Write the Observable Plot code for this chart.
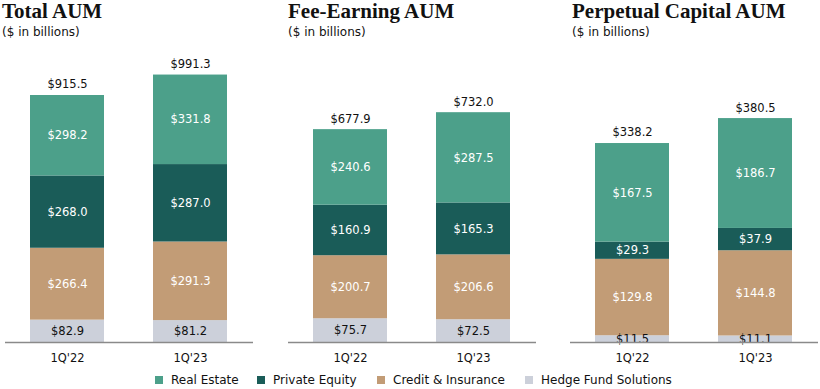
<!DOCTYPE html>
<html><head><meta charset="utf-8">
<script src="https://cdn.jsdelivr.net/npm/d3@7"></script>
<script src="https://cdn.jsdelivr.net/npm/@observablehq/plot@0.6"></script>
<style>
body{margin:0;background:#fff;}
#root{position:relative;width:820px;height:389px;overflow:hidden;font-family:"DejaVu Sans",sans-serif;}
.title{position:absolute;top:-1px;font-family:"Liberation Serif",serif;font-weight:bold;font-size:21px;color:#111;white-space:nowrap;}
.sub{position:absolute;top:25px;font-size:12px;color:#111;white-space:nowrap;}
.panel{position:absolute;top:0;}
#legend{position:absolute;top:373px;left:0;width:820px;font-size:12px;color:#111;}
.li{position:absolute;top:0;white-space:nowrap;}
.sw{display:inline-block;width:8px;height:8px;margin-right:8px;vertical-align:0px;}
</style></head>
<body><div id="root"></div>
<script>
const periods = ["1Q'22", "1Q'23"];
const segments = ["Real Estate", "Private Equity", "Credit & Insurance", "Hedge Fund Solutions"];
const colors = ["#4ca08a", "#1a5c58", "#c29c76", "#ccd0da"];
const panelTitles = ["Total AUM", "Fee-Earning AUM", "Perpetual Capital AUM"];
// values per segment: [1Q'22, 1Q'23]
const totalAUM = {
  "Real Estate": [298.2, 331.8],
  "Private Equity": [268.0, 287.0],
  "Credit & Insurance": [266.4, 291.3],
  "Hedge Fund Solutions": [82.9, 81.2]
};
const totalAUMTotals = [915.5, 991.3];
const feeEarningAUM = {
  "Real Estate": [240.6, 287.5],
  "Private Equity": [160.9, 165.3],
  "Credit & Insurance": [200.7, 206.6],
  "Hedge Fund Solutions": [75.7, 72.5]
};
const feeEarningTotals = [677.9, 732.0];
const perpetualAUM = {
  "Real Estate": [167.5, 186.7],
  "Private Equity": [29.3, 37.9],
  "Credit & Insurance": [129.8, 144.8],
  "Hedge Fund Solutions": [11.5, 11.1]
};
const perpetualTotals = [338.2, 380.5];

const panels = [
  {data: totalAUM, totals: totalAUMTotals, left: 5, dmax: 1000, top: 72.2},
  {data: feeEarningAUM, totals: feeEarningTotals, left: 288, dmax: 800, top: 90.8},
  {data: perpetualAUM, totals: perpetualTotals, left: 570, dmax: 400, top: 106.6}
];
const titleLeft = [2, 288, 572];

const root = document.getElementById("root");
panels.forEach((p, i) => {
  const t = document.createElement("div"); t.className = "title"; t.style.left = titleLeft[i] + "px"; t.textContent = panelTitles[i]; root.appendChild(t);
  const s = document.createElement("div"); s.className = "sub"; s.style.left = titleLeft[i] + "px"; s.textContent = "($ in billions)"; root.appendChild(s);

  // stacking order bottom to top: Hedge, Credit, PE, Real Estate
  const rows = [];
  periods.forEach((per, j) => {
    segments.slice().reverse().forEach(seg => {
      rows.push({period: per, segment: seg, value: p.data[seg][j]});
    });
  });
  const totals = periods.map((per, j) => ({period: per, total: p.totals[j]}));
  const fmt = v => "$" + v.toFixed(1);

  const plot = Plot.plot({
    width: 248, height: 365,
    marginLeft: 0, marginRight: 0, marginTop: 0, marginBottom: 23,
    style: {fontFamily: "DejaVu Sans, sans-serif", fontSize: "11px", background: "transparent", color: "#111"},
    x: {domain: periods, range: [0, 248], paddingInner: 0.395, paddingOuter: 0.1976, label: null},
    y: {domain: [0, p.dmax], range: [342, p.top], axis: null},
    color: {domain: segments, range: colors},
    marks: [
      Plot.barY(rows, Plot.stackY({x: "period", y: "value", fill: "segment", order: segments.slice().reverse()})),
      Plot.text(rows, Plot.stackY({x: "period", y: "value", order: segments.slice().reverse(),
        text: d => fmt(d.value), fill: d => d.segment === "Hedge Fund Solutions" ? "#111" : "#fff", fontSize: 11.5})),
      Plot.text(totals, {x: "period", y: "total", text: d => fmt(d.total), lineAnchor: "bottom", dy: -7, fill: "#111", fontSize: 11.5}),
      Plot.ruleY([0], {stroke: "#8a8a8a", strokeWidth: 1.5}),
      Plot.axisX({tickSize: 0, tickPadding: 11, fontSize: 11.5, label: null})
    ]
  });
  const wrap = document.createElement("div"); wrap.className = "panel"; wrap.style.left = p.left + "px";
  wrap.appendChild(plot); root.appendChild(wrap);
});

const legend = document.createElement("div"); legend.id = "legend";
const legX = [155, 257, 377, 525];
segments.forEach((seg, i) => {
  const it = document.createElement("div"); it.className = "li"; it.style.left = legX[i] + "px";
  const sw = document.createElement("span"); sw.className = "sw"; sw.style.background = colors[i];
  it.appendChild(sw); it.appendChild(document.createTextNode(seg));
  legend.appendChild(it);
});
root.appendChild(legend);
</script></body></html>
